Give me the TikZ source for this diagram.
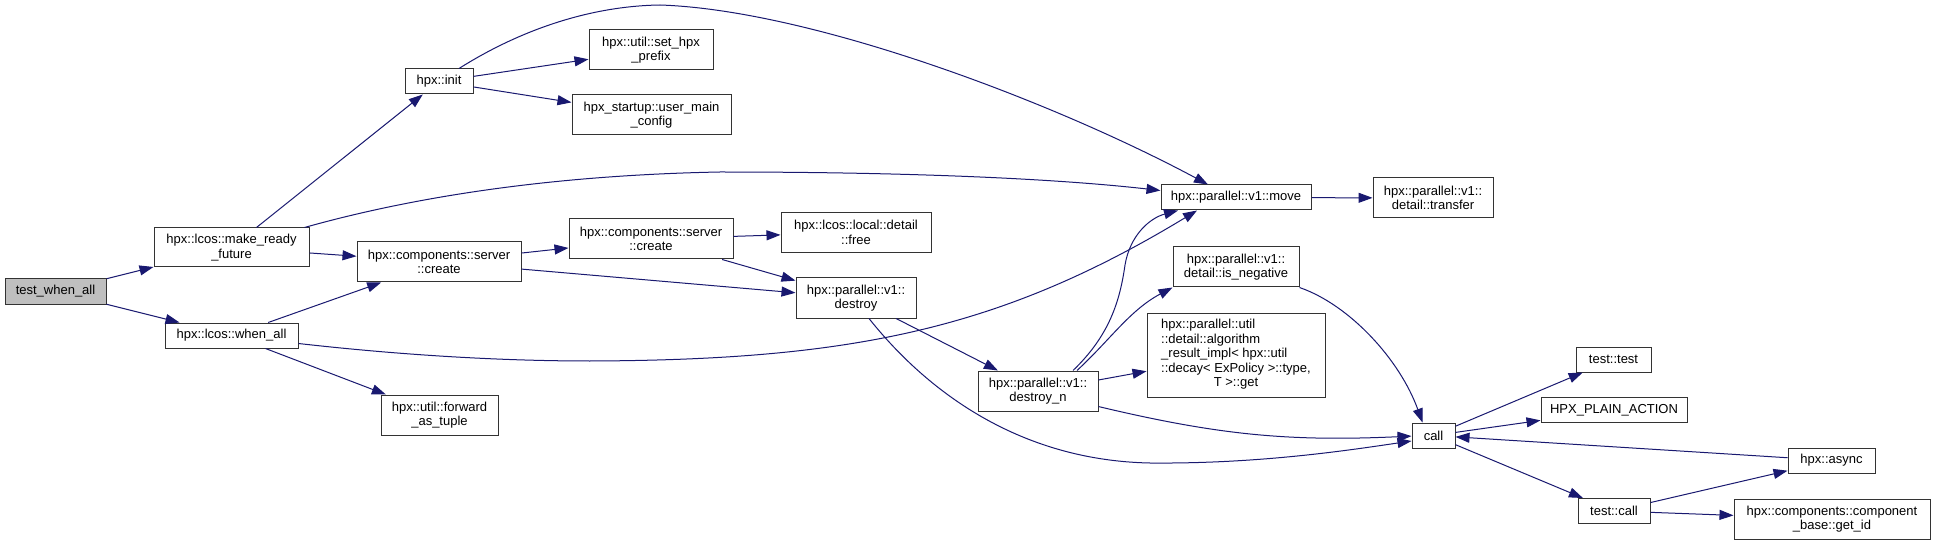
\documentclass[tikz,border=0pt]{standalone}
\usepackage{fontspec}
\setmainfont{Liberation Sans}
\usetikzlibrary{arrows.meta}
\definecolor{edgec}{HTML}{191970}
\definecolor{boxc}{HTML}{333333}
\definecolor{graybox}{HTML}{BFBFBF}
\begin{document}
\begin{tikzpicture}[x=1pt,y=-1pt,
  box/.style={draw=boxc, line width=1pt, fill=white, inner sep=0pt, align=center,
    font=\fontsize{13}{14.5}\selectfont, text=black},
  sz/.style 2 args={minimum width=#1pt, minimum height=#2pt},
  e/.style={draw=edgec, line width=1pt, -{Triangle[length=14pt,width=10pt]}}]
\useasboundingbox[fill=white] (0,0) rectangle (1935,545);

\node[box, sz={101}{25}, fill=graybox] (twa) at (55.5,291.5) {test\_when\_all};
\node[box, sz={155}{39}] (mrf) at (231.5,247.5) {hpx::lcos::make\_ready\\\_future};
\node[box, sz={133}{25}] (wa) at (231.5,335.5) {hpx::lcos::when\_all};
\node[box, sz={68}{25}] (init) at (439,81.5) {hpx::init};
\node[box, sz={124}{40}] (shp) at (651,50) {hpx::util::set\_hpx\\\_prefix};
\node[box, sz={159}{40}] (umc) at (651.5,115) {hpx\_startup::user\_main\\\_config};
\node[box, sz={164}{40}] (sc1) at (439,262) {hpx::components::server\\::create};
\node[box, sz={117}{40}] (fat) at (439.5,415) {hpx::util::forward\\\_as\_tuple};
\node[box, sz={164}{40}] (sc2) at (651,239) {hpx::components::server\\::create};
\node[box, sz={150}{40}] (free) at (856,232.5) {hpx::lcos::local::detail\\::free};
\node[box, sz={120}{40}] (dest) at (856,298) {hpx::parallel::v1::\\destroy};
\node[box, sz={150}{25}] (move) at (1236,197.5) {hpx::parallel::v1::move};
\node[box, sz={120}{40}] (trans) at (1433,198) {hpx::parallel::v1::\\detail::transfer};
\node[box, sz={126}{40}] (isneg) at (1236,267) {hpx::parallel::v1::\\detail::is\_negative};
\node[box, sz={178}{84}] (alg) at (1236,355) {\begin{tabular}{@{}l@{}}hpx::parallel::util\\::detail::algorithm\\\_result\_impl< hpx::util\\::decay< ExPolicy >::type,\\\multicolumn{1}{@{}c@{}}{T >::get}\end{tabular}};
\node[box, sz={120}{40}] (dn) at (1038,391) {hpx::parallel::v1::\\destroy\_n};
\node[box, sz={43}{25}] (call) at (1433.5,435.5) {call};
\node[box, sz={75}{25}] (tt) at (1613.5,359.5) {test::test};
\node[box, sz={146}{25}] (hpa) at (1614,410) {HPX\_PLAIN\_ACTION};
\node[box, sz={87}{25}] (async) at (1831.5,460.5) {hpx::async};
\node[box, sz={72}{25}] (tc) at (1614,511) {test::call};
\node[box, sz={196}{40}] (gid) at (1832,519) {hpx::components::component\\\_base::get\_id};

\draw[e] (twa) -- (mrf);
\draw[e] (twa) -- (wa);
\draw[e] (mrf) -- (init);
\draw[e] ([xshift=-5pt]mrf.north east) .. controls (420,195) and (560,175) .. (720,172)
   .. controls (900,172) and (1050,178) .. ([yshift=7pt]move.west);
\draw[e] (mrf) -- (sc1);
\draw[e] ([xshift=20pt]init.north) .. controls (520,30) and (590,6) .. (660,5)
   .. controls (810,10) and (1050,100) .. ([xshift=-28pt]move.north);
\draw[e] (init) -- (shp);
\draw[e] (init) -- (umc);
\draw[e] (wa) -- (sc1);
\draw[e] ([yshift=-8pt]wa.east) .. controls (400,355) and (500,361) .. (590,361)
   .. controls (850,360) and (1000,330) .. ([xshift=-39pt]move.south);
\draw[e] (wa) -- (fat);
\draw[e] (sc1) -- (sc2);
\draw[e] (sc1) -- (dest);
\draw[e] (sc2) -- (free);
\draw[e] (sc2) -- (dest);
\draw[e] (dest) -- (dn);
\draw[e] ([xshift=13pt]dest.south) .. controls (910,370) and (1000,460) .. (1150,463)
   .. controls (1260,464) and (1350,450) .. ([yshift=-5.5pt]call.west);
\draw[e] ([xshift=35pt]dn.north) .. controls (1110,335) and (1120,300) .. (1125,265)
   .. controls (1130,235) and (1150,218) .. ([xshift=-58pt]move.south);
\draw[e] ([xshift=39pt]dn.north) .. controls (1110,340) and (1130,310) .. (isneg.south west);
\draw[e] (dn) -- (alg);
\draw[e] (dn) to[bend right=8] (call);
\draw[e] (isneg.south east) .. controls (1350,305) and (1400,360) .. ([xshift=-11pt]call.north);
\draw[e] (move) -- (trans);
\draw[e] (call) -- (tt);
\draw[e] (call) -- (hpa);
\draw[e] (call) -- (tc);
\draw[e] (async) -- (call);
\draw[e] (tc) -- (async);
\draw[e] (tc) -- (gid);
\end{tikzpicture}
\end{document}
